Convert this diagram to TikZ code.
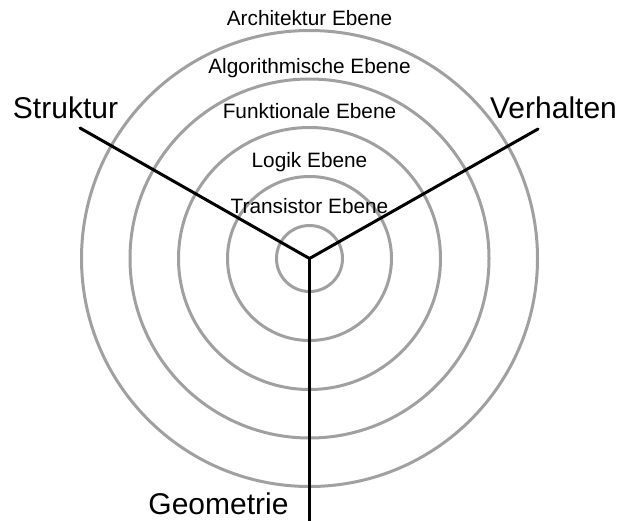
\documentclass[tikz,border=0pt]{standalone}
\usepackage{fontspec}
\setmainfont{Liberation Sans}
\usetikzlibrary{positioning}
\definecolor{cring}{HTML}{A0A0A0}
\tikzset{
  ring/.style={draw=cring, line width=3pt},
  axis/.style={draw=black, line width=3pt},
  level/.style={anchor=base, inner sep=0pt, font=\fontsize{20.8}{24}\selectfont},
  view/.style={anchor=base, inner sep=0pt, font=\fontsize{30}{34}\selectfont},
}
\begin{document}
\begin{tikzpicture}[x=1pt, y=-1pt]
  \useasboundingbox (0,0) rectangle (620,520);
  % rings
  \coordinate (c) at (309.5,258.5);
  \foreach \r in {33,82,131,179.5,228}
    \draw[ring] (c) circle[radius=\r pt];
  % the three axes
  \coordinate (s) at (80,128);
  \coordinate (v) at (538,129);
  \coordinate (g) at (309.5,524);
  \draw[axis, line cap=round] (s) -- (c) -- (v);
  \draw[axis] (c) -- (g);
  % levels
  \node[level] (arch) at (309.5,25) {Architektur Ebene};
  \node[level] (algo) at (309.5,73) {Algorithmische Ebene};
  \node[level] (funk) at (309.5,118) {Funktionale Ebene};
  \node[level] (logik) at (309.5,167) {Logik Ebene};
  \node[level] (trans) at (309.5,213) {Transistor Ebene};
  % views
  \node[view] (struktur) at (65.5,118) {Struktur};
  \node[view] (verhalten) at (553.5,118) {Verhalten};
  \node[view] (geometrie) at (218.5,514) {Geometrie};
\end{tikzpicture}
\end{document}
